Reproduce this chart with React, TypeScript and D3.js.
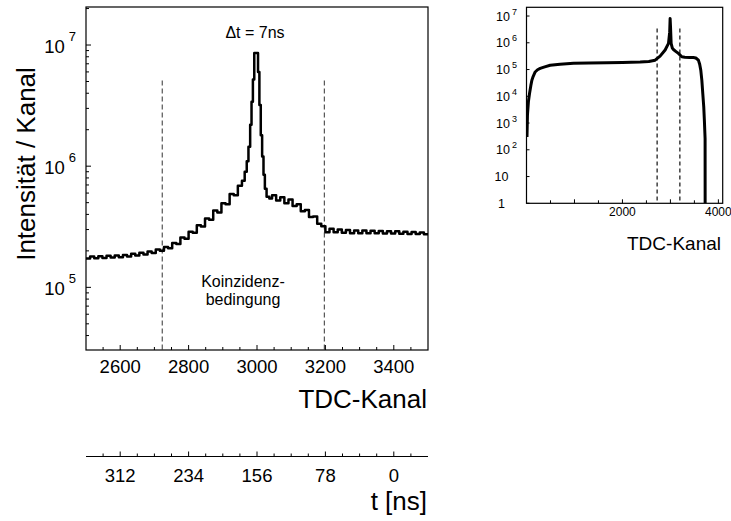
import * as d3 from "d3";

// main panel: TDC spectrum around the prompt peak (counts per channel)
const mainChannels = [
  2500, 2512, 2524, 2536, 2548, 2560, 2572, 2584, 2596, 2608, 2620, 2632, 2644,
  2656, 2668, 2680, 2692, 2704, 2716, 2728, 2740, 2752, 2764, 2776, 2788, 2800,
  2812, 2824, 2836, 2848, 2860, 2872, 2884, 2896, 2908, 2920, 2932, 2944, 2956,
  2964, 2970, 2975, 2980, 2984, 2988, 2992, 2998, 3003, 3007, 3011, 3015, 3019,
  3023, 3028, 3036,
  3044, 3056, 3068, 3080, 3092, 3104, 3116, 3128, 3140, 3152, 3164, 3176, 3188,
  3200, 3212, 3224, 3236, 3248, 3260, 3272, 3284, 3296, 3308, 3320, 3332, 3344,
  3356, 3368, 3380, 3392, 3404, 3416, 3428, 3440, 3452, 3464, 3476, 3488, 3500,
];
const mainCounts = [
  1.73e5, 1.8e5, 1.74e5, 1.81e5, 1.75e5, 1.82e5, 1.76e5, 1.83e5, 1.77e5, 1.85e5,
  1.8e5, 1.89e5, 1.83e5, 1.93e5, 1.87e5, 1.98e5, 1.92e5, 2.05e5, 2.0e5, 2.15e5,
  2.1e5, 2.32e5, 2.28e5, 2.58e5, 2.52e5, 2.88e5, 2.82e5, 3.25e5, 3.18e5, 3.7e5,
  3.62e5, 4.3e5, 4.15e5, 4.95e5, 4.85e5, 5.9e5, 5.75e5, 6.9e5, 7.6e5,
  9.0e5, 1.1e6, 1.45e6, 2.2e6, 3.4e6, 5.2e6, 8.6e6, 8.6e6, 6.0e6, 3.2e6, 1.8e6,
  1.2e6, 8.5e5, 6.5e5, 5.6e5, 5.4e5,
  5.75e5, 5.2e5, 5.55e5, 4.95e5, 5.3e5, 4.7e5, 4.85e5, 4.25e5, 4.35e5, 3.8e5,
  3.85e5, 3.35e5, 3.2e5, 2.85e5, 3.05e5, 2.85e5, 3.0e5, 2.82e5, 2.97e5, 2.8e5,
  2.95e5, 2.8e5, 2.94e5, 2.79e5, 2.93e5, 2.79e5, 2.92e5, 2.78e5, 2.91e5, 2.78e5,
  2.9e5, 2.77e5, 2.88e5, 2.76e5, 2.86e5, 2.75e5, 2.84e5, 2.74e5, 2.8e5,
];

// inset: full TDC range
const insetChannels = [
  10, 20, 40, 63, 90, 112, 140, 181, 230, 285, 380, 494, 700, 980, 1300, 1675,
  2000, 2369, 2550, 2681, 2785, 2890, 2960, 2985, 2994, 3002, 3015, 3040, 3063,
  3110, 3167, 3237, 3300, 3400, 3479, 3530, 3583, 3610, 3633, 3655, 3675, 3695,
  3708, 3723, 3724,
];
const insetCounts = [
  3e2, 2e3, 6.3e3, 1.26e4, 2.5e4, 4e4, 5.6e4, 8.1e4, 9.8e4, 1.1e5, 1.26e5,
  1.45e5, 1.58e5, 1.7e5, 1.74e5, 1.78e5, 1.82e5, 1.9e5, 2.0e5, 2.24e5, 3.16e5,
  5.4e5, 9.5e5, 2.5e6, 8.1e6, 4e6, 9.5e5, 6.3e5, 5.6e5, 4.8e5, 4.0e5, 3.0e5,
  2.9e5, 2.8e5, 2.8e5, 2.7e5, 2.24e5, 1.58e5, 9.5e4, 4e4, 1.26e4, 4e3, 1.26e3,
  2.6e2, 1,
];

const gateChannels = [2723, 3197];
const mainXTicks = [2600, 2800, 3000, 3200, 3400];
const mainYExponents = [5, 6, 7];
const timeTicks = [312, 234, 156, 78, 0];
const insetYExponents = [0, 1, 2, 3, 4, 5, 6, 7];
const insetXLabels = [2000, 4000];

const FONT = "'Liberation Sans', Arial, Helvetica, sans-serif";

export default function App() {
  const W = 731;
  const H = 521;

  // main panel scales
  const x = d3.scaleLinear().domain([2500, 3500]).range([86, 428]);
  const y = d3.scaleLog().domain([3.04e4, 2.06e7]).range([350, 7]);
  // time axis: t = (3400 - channel) * 0.39 ns
  const t = d3.scaleLinear().domain([351, -39]).range([86, 428]);

  // inset scales
  const xi = d3.scaleLinear().domain([0, 4090]).range([526.5, 722.7]);
  const yi = d3.scaleLog().domain([1, 2.12e7]).range([203.3, 7.3]);

  const mainPts = mainChannels.map((c, i) => [c, mainCounts[i]] as [number, number]);
  const mainLine = d3
    .line<[number, number]>()
    .x((d) => x(d[0]))
    .y((d) => y(d[1]))
    .curve(d3.curveStepAfter);

  const insetPts = insetChannels.map((c, i) => [c, insetCounts[i]] as [number, number]);
  const insetLine = d3
    .line<[number, number]>()
    .x((d) => xi(d[0]))
    .y((d) => yi(d[1]));

  const [yLo, yHi] = y.domain();
  const yMinor: number[] = [];
  for (let e = 4; e <= 7; e++) {
    for (let m = 2; m <= 9; m++) {
      const v = m * Math.pow(10, e);
      if (v > yLo && v < yHi) yMinor.push(v);
    }
  }
  const xMinor = d3.range(2550, 3500, 50).filter((c) => c % 200 !== 0);
  const tMinor = d3.range(-19.5, 351, 19.5).filter((v) => Math.abs(v % 78) > 1);
  const insetXMinor = d3.range(500, 4090, 500);

  const [x0, x1] = x.range();
  const [yb, yt] = y.range();
  const [ix0, ix1] = xi.range();
  const [iyb, iyt] = yi.range();

  return (
    <svg
      width={W}
      height={H}
      style={{ position: "absolute", left: 0, top: 0, background: "#fff" }}
      fontFamily={FONT}
    >
      <defs>
        <clipPath id="main-clip">
          <rect x={x0} y={yt} width={x1 - x0} height={yb - yt} />
        </clipPath>
        <clipPath id="inset-clip">
          <rect x={ix0} y={iyt} width={ix1 - ix0} height={iyb - iyt} />
        </clipPath>
      </defs>

      {/* main panel */}
      {gateChannels.map((c) => (
        <line key={c} x1={x(c)} x2={x(c)} y1={80.5} y2={yb} stroke="#555" strokeWidth={1.2} strokeDasharray="5,3" />
      ))}
      <path
        d={mainLine(mainPts) ?? ""}
        fill="none"
        stroke="#000"
        strokeWidth={2.5}
        strokeLinejoin="round"
        clipPath="url(#main-clip)"
      />
      <rect x={x0} y={yt} width={x1 - x0} height={yb - yt} fill="none" stroke="#000" strokeWidth={1.2} />

      {yMinor.map((v) => (
        <line key={v} x1={x0} x2={x0 + 3} y1={y(v)} y2={y(v)} stroke="#000" />
      ))}
      {mainYExponents.map((e) => (
        <g key={e}>
          <line x1={x0} x2={x0 + 5} y1={y(Math.pow(10, e))} y2={y(Math.pow(10, e))} stroke="#000" />
          <text x={76} y={y(Math.pow(10, e)) + 7.5} textAnchor="end" fontSize={18.5}>
            10
            <tspan dx={4} dy={-12} fontSize={13}>{e}</tspan>
          </text>
        </g>
      ))}

      {xMinor.map((c) => (
        <line key={c} x1={x(c)} x2={x(c)} y1={yb} y2={yb - 3} stroke="#000" />
      ))}
      {mainXTicks.map((c) => (
        <g key={c}>
          <line x1={x(c)} x2={x(c)} y1={yb} y2={yb - 5} stroke="#000" />
          <text x={x(c)} y={372.5} textAnchor="middle" fontSize={18.5}>{c}</text>
        </g>
      ))}

      <text x={427} y={408} textAnchor="end" fontSize={26}>TDC-Kanal</text>
      <text transform="translate(35,164) rotate(-90)" textAnchor="middle" fontSize={26}>
        Intensität / Kanal
      </text>

      <text x={255} y={38} textAnchor="middle" fontSize={16}>Δt = 7ns</text>
      <text x={243} y={287} textAnchor="middle" fontSize={16}>Koinzidenz-</text>
      <text x={243} y={305} textAnchor="middle" fontSize={16}>bedingung</text>

      {/* time axis */}
      <line x1={x0} x2={x1} y1={456.5} y2={456.5} stroke="#000" strokeWidth={1.2} />
      {tMinor.map((v) => (
        <line key={v} x1={t(v)} x2={t(v)} y1={456.5} y2={453.5} stroke="#000" />
      ))}
      {timeTicks.map((v) => (
        <g key={v}>
          <line x1={t(v)} x2={t(v)} y1={456.5} y2={451.5} stroke="#000" />
          <text x={t(v)} y={481.5} textAnchor="middle" fontSize={18.5}>{v}</text>
        </g>
      ))}
      <text x={427} y={510} textAnchor="end" fontSize={26}>t [ns]</text>

      {/* inset */}
      {gateChannels.map((c) => (
        <line key={c} x1={xi(c)} x2={xi(c)} y1={28.5} y2={iyb} stroke="#222" strokeWidth={1.3} strokeDasharray="4,3" />
      ))}
      <path d={insetLine(insetPts) ?? ""} fill="none" stroke="#000" strokeWidth={3} strokeLinejoin="round" clipPath="url(#inset-clip)" />
      <rect x={ix0} y={iyt} width={ix1 - ix0} height={iyb - iyt} fill="none" stroke="#000" strokeWidth={1.2} />
      {insetYExponents.map((e) => {
        const yy = yi(Math.pow(10, e));
        return (
          <g key={e}>
            <line x1={ix0} x2={ix0 + 3} y1={yy} y2={yy} stroke="#000" />
            {e === 0 ? (
              <text x={505} y={yy + 4.5} textAnchor="end" fontSize={12.5}>1</text>
            ) : e === 1 ? (
              <text x={508.5} y={yy + 4.5} textAnchor="end" fontSize={12.5}>10</text>
            ) : (
              <text x={517} y={yy + 4.5} textAnchor="end" fontSize={12.5}>
                10
                <tspan dx={2} dy={-6} fontSize={9}>{e}</tspan>
              </text>
            )}
          </g>
        );
      })}
      {insetXMinor.map((c) => (
        <line key={c} x1={xi(c)} x2={xi(c)} y1={iyb} y2={iyb - (c % 1000 === 0 ? 4 : 3)} stroke="#000" />
      ))}
      {insetXLabels.map((c) => (
        <text key={c} x={xi(c)} y={216} textAnchor="middle" fontSize={12}>{c}</text>
      ))}
      <text x={721} y={250} textAnchor="end" fontSize={19}>TDC-Kanal</text>
    </svg>
  );
}
